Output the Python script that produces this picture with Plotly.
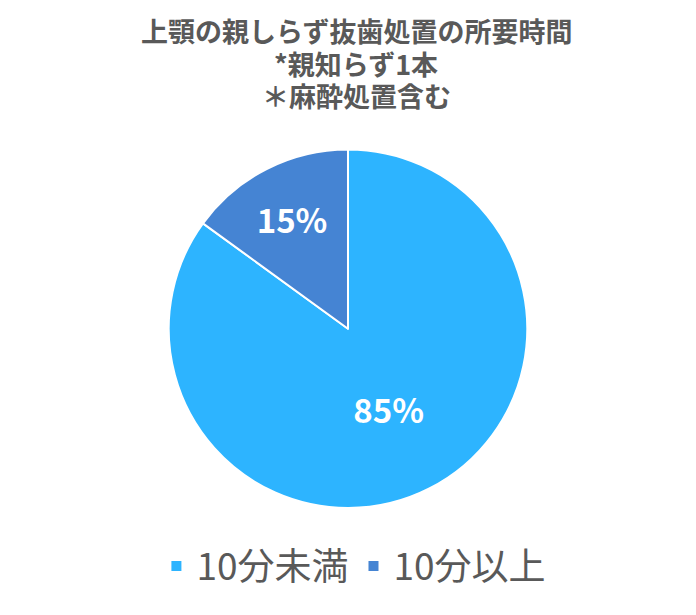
import plotly.graph_objects as go

# 上顎の親しらず抜歯処置の所要時間（円グラフ）
title_lines = ["上顎の親しらず抜歯処置の所要時間", "*親知らず1本", "＊麻酔処置含む"]
labels = ["10分未満", "10分以上"]
values = [85, 15]
colors = ["#2db4ff", "#4584d3"]

C_TEXT = "#595959"
FONT = "Noto Sans CJK JP"

fig = go.Figure(go.Pie(
    labels=labels, values=values,
    sort=False, direction="clockwise", rotation=0,
    marker=dict(colors=colors, line=dict(color="#ffffff", width=2)),
    textinfo="percent", texttemplate="<b>%{percent:.0%}</b>",
    textposition="inside", insidetextorientation="horizontal",
    textfont=dict(color="#ffffff", size=33, family=FONT),
    domain=dict(x=[0, 0.977], y=[0.187, 0.770]),
    hoverinfo="label+percent",
))

# titulo: uma anotacao por linha, para controlar o espacamento
for i, line in enumerate(title_lines):
    fig.add_annotation(text="<b>" + line + "</b>",
                       xref="paper", yref="paper", x=0.5, y=0.964 - i * 0.0535,
                       xanchor="center", yanchor="middle", showarrow=False,
                       font=dict(size=27, color=C_TEXT, family=FONT))

fig.update_layout(
    width=696, height=615,
    margin=dict(l=0, r=0, t=0, b=0),
    paper_bgcolor="#ffffff", plot_bgcolor="#ffffff",
    font=dict(family=FONT, color=C_TEXT),
    legend=dict(orientation="h", x=0.497, xanchor="center", y=0.092, yanchor="middle",
                font=dict(size=37, color=C_TEXT)),
)

fig.write_html("out.html")
